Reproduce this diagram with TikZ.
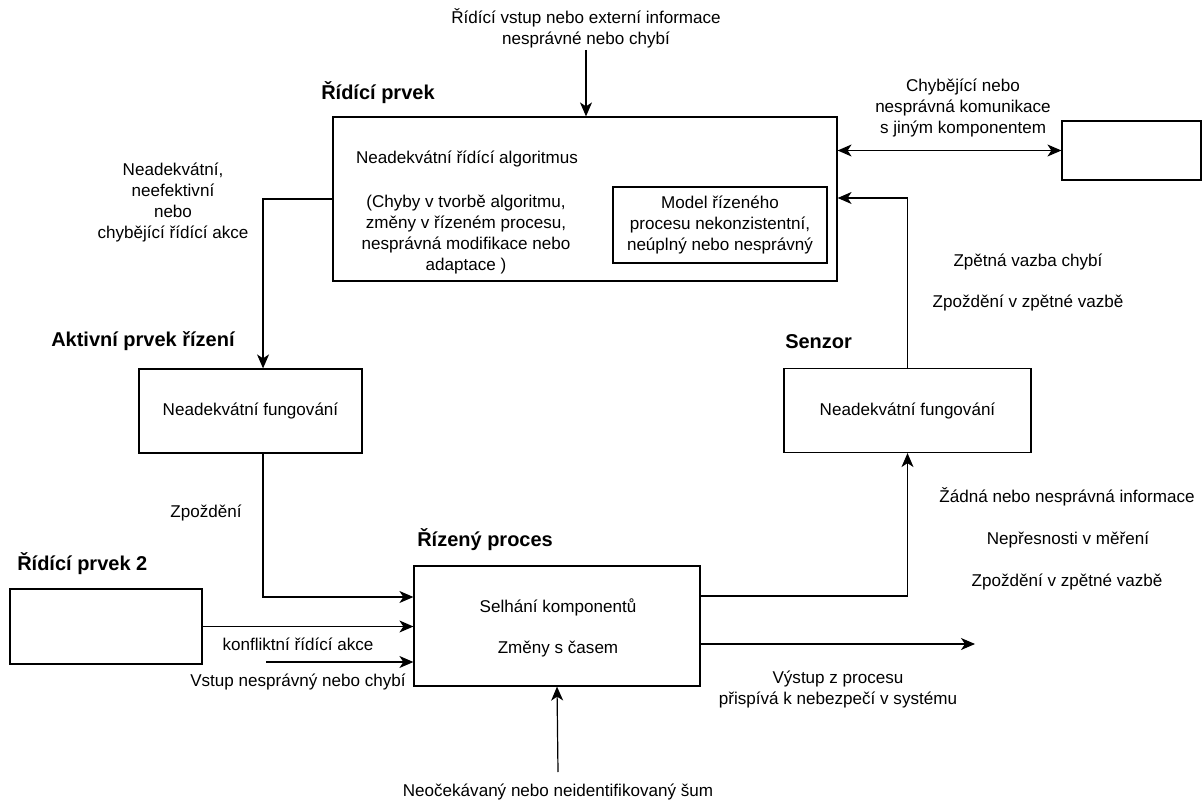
\documentclass[tikz,border=0pt]{standalone}
\usepackage{fontspec}
\setmainfont{Liberation Sans}
\usetikzlibrary{arrows.meta, positioning}

\begin{document}
\begin{tikzpicture}[x=0.75pt, y=-0.75pt,
    box/.style={draw, line width=0.9pt, inner sep=0pt},
    lbl/.style={align=center, inner sep=0pt, font=\fontsize{12.8}{15.75}\selectfont},
    ttl/.style={anchor=west, inner sep=0pt, font=\fontsize{15}{17}\selectfont\bfseries},
    arr/.style={-{Stealth[length=10.5pt, width=9pt, inset=3pt]}, line width=0.9pt},
    darr/.style={{Stealth[length=10.5pt, width=9pt, inset=3pt]}-{Stealth[length=10.5pt, width=9pt, inset=3pt]}, line width=0.9pt}]
  \useasboundingbox (0,0) rectangle (1203,802);

  % boxes
  \node[box, minimum width=378pt, minimum height=123pt] (ctrl) at (585,199) {};
  \node[box, minimum width=160.5pt, minimum height=57pt, lbl] (model) at (720,225)
    {Model řízeného\\procesu nekonzistentní,\\neúplný nebo nesprávný};
  \node[box, minimum width=104.25pt, minimum height=44.25pt] (other) at (1131.5,150.5) {};
  \node[box, minimum width=167.25pt, minimum height=63pt, lbl] (act) at (250.5,411) {Neadekvátní fungování};
  \node[box, minimum width=185.25pt, minimum height=63pt, lbl] (sensor) at (907.5,410.5) {Neadekvátní fungování};
  \node[box, minimum width=214.5pt, minimum height=90pt] (proc) at (557,626) {};
  \node[box, minimum width=144pt, minimum height=56.25pt] (ctrltwo) at (106,626.5) {};

  % titles
  \node[ttl] (tctrl) at (321,93) {Řídící prvek};
  \node[ttl] (tact) at (51,341) {Aktivní prvek řízení};
  \node[ttl] (tsensor) at (785,342) {Senzor};
  \node[ttl] (tproc) at (417,540) {Řízený proces};
  \node[ttl] (tctrltwo) at (17,564) {Řídící prvek 2};

  % texts in the boxes
  \node[lbl] (algo) at (467,159) {Neadekvátní řídící algoritmus};
  \node[lbl] (algoerr) at (466,235) {(Chyby v tvorbě algoritmu,\\změny v řízeném procesu,\\nesprávná modifikace nebo\\adaptace )};
  \node[lbl] (fail) at (558,607) {Selhání komponentů};
  \node[lbl] (drift) at (558,649) {Změny s časem};

  % labels
  \node[lbl] (extin) at (586,28) {Řídící vstup nebo externí informace\\nesprávné nebo chybí};
  \node[lbl] (comm) at (963,108) {Chybějící nebo\\nesprávná komunikace\\s jiným komponentem};
  \node[lbl] (badact) at (173,202) {Neadekvátní,\\neefektivní\\nebo\\chybějící řídící akce};
  \node[lbl] (fbmiss) at (1028,262) {Zpětná vazba chybí};
  \node[lbl] (fbdelay) at (1028,303) {Zpoždění v zpětné vazbě};
  \node[lbl] (actdelay) at (206,513) {Zpoždění};
  \node[lbl] (noinfo) at (1067,497) {Žádná nebo nesprávná informace};
  \node[lbl] (inacc) at (1068,540) {Nepřesnosti v měření};
  \node[lbl] (sdelay) at (1067,582) {Zpoždění v zpětné vazbě};
  \node[lbl] (conflict) at (298,644) {konfliktní řídící akce};
  \node[lbl] (badin) at (298,682) {Vstup nesprávný nebo chybí};
  \node[lbl] (output) at (838,689) {Výstup z procesu\\přispívá k nebezpečí v systému};
  \node[lbl] (noise) at (558,792) {Neočekávaný nebo neidentifikovaný šum};

  \coordinate (inp) at (266,662);
  \coordinate (out) at (975,644);
  \coordinate (noisetop) at (558,772);

  % connectors
  \draw[arr] (586,50) -- (ctrl.north -| 586,0);
  \draw[darr] (other.west) -- (other.west -| ctrl.east);
  \draw[arr] (sensor.north) |- ([yshift=0.75pt]ctrl.east);
  \draw[arr] (ctrl.west) -| ([xshift=9.4pt]act.north);
  \draw[arr] ([xshift=9.4pt]act.south) |- ([yshift=21.75pt]proc.west);
  \draw[arr] (ctrltwo.east) -- (ctrltwo.east -| proc.west);
  \draw[arr] (inp) -- (inp -| proc.west);
  \draw[arr] ([yshift=22.5pt]proc.east) -| (sensor.south);
  \draw[arr] ([yshift=-13.5pt]proc.east) -- (out);
  \draw[arr] (noisetop) -- (proc.south);
\end{tikzpicture}
\end{document}
